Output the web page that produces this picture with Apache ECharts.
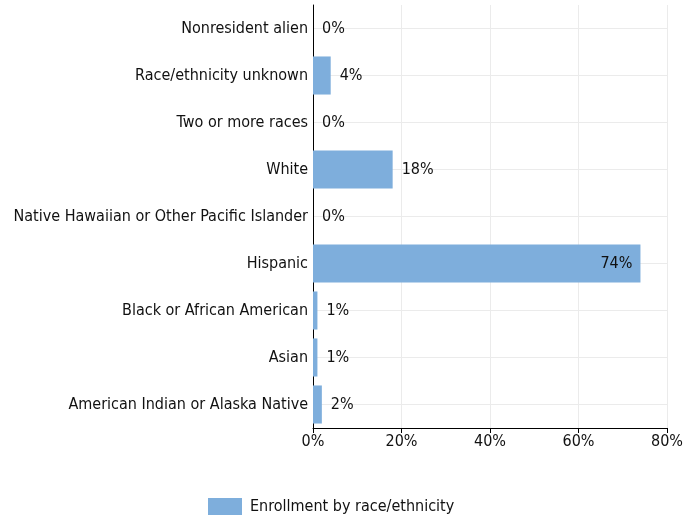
<!DOCTYPE html>
<html>
<head>
<meta charset="utf-8">
<script src="https://cdn.jsdelivr.net/npm/echarts@6/dist/echarts.min.js"></script>
<style>
html,body{margin:0;padding:0;background:#fff;}
#main{width:686px;height:520px;}
</style>
</head>
<body>
<div id="main"></div>
<script>
const categories = [
  "American Indian or Alaska Native",
  "Asian",
  "Black or African American",
  "Hispanic",
  "Native Hawaiian or Other Pacific Islander",
  "White",
  "Two or more races",
  "Race/ethnicity unknown",
  "Nonresident alien"
];
const values = [2, 1, 1, 74, 0, 18, 0, 4, 0];
const seriesName = "Enrollment by race/ethnicity";
const xTicks = [0, 20, 40, 60, 80];

const FONT = "'Liberation Sans Narrow', 'DejaVu Sans Condensed', 'Liberation Sans', sans-serif";
const TXT = '#111';
const chart = echarts.init(document.getElementById('main'), null, {renderer: 'canvas'});

const data = values.map(function (v) {
  if (v > 50) {
    return {value: v, label: {position: 'insideRight', distance: 8}};
  }
  return v;
});

chart.setOption({
  animation: false,
  backgroundColor: '#ffffff',
  textStyle: {fontFamily: FONT},
  grid: {left: 313, right: 17, top: 5, bottom: 92, containLabel: false},
  legend: {
    bottom: 0,
    left: 203,
    itemWidth: 34,
    itemHeight: 17,
    itemGap: 10,
    icon: 'rect',
    textStyle: {fontFamily: FONT, fontSize: 16, color: TXT, padding: [0, 0, 0, 3]},
    data: [seriesName]
  },
  xAxis: {
    type: 'value',
    min: xTicks[0],
    max: xTicks[xTicks.length - 1],
    interval: 20,
    axisLine: {show: true, lineStyle: {color: '#000', width: 1}},
    axisTick: {show: true, length: 5, lineStyle: {color: '#000'}},
    axisLabel: {formatter: '{value}%', fontFamily: FONT, fontSize: 16, color: TXT, margin: 6},
    splitLine: {show: true, lineStyle: {color: '#ebebeb', width: 1}}
  },
  yAxis: [
    {
      type: 'category',
      data: categories,
      axisLine: {show: true, lineStyle: {color: '#000', width: 1}},
      axisTick: {show: false},
      axisLabel: {fontFamily: FONT, fontSize: 16, color: TXT, margin: 5},
      splitLine: {show: false}
    },
    {
      type: 'value',
      min: 0,
      max: categories.length * 2,
      interval: 1,
      position: 'right',
      axisLine: {show: false},
      axisTick: {show: false},
      axisLabel: {show: false},
      splitLine: {show: true, lineStyle: {color: ['rgba(0,0,0,0)', '#ebebeb'], width: 1}}
    }
  ],
  series: [{
    name: seriesName,
    type: 'bar',
    yAxisIndex: 0,
    data: data,
    barCategoryGap: '19%',
    itemStyle: {color: '#7eaedc'},
    label: {
      show: true,
      position: 'right',
      distance: 9,
      formatter: '{c}%',
      fontFamily: FONT,
      fontSize: 16,
      color: TXT
    }
  }]
});
</script>
</body>
</html>
